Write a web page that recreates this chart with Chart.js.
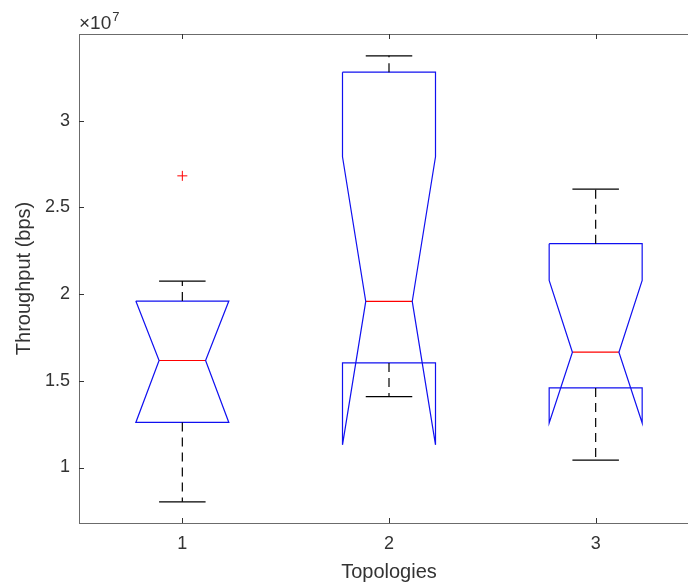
<!DOCTYPE html>
<html><head><meta charset="utf-8">
<script src="https://cdn.jsdelivr.net/npm/chart.js@4.4.0/dist/chart.umd.min.js"></script>
<style>
html,body{margin:0;padding:0;background:#fff;overflow:hidden;width:688px;height:582px;}
#wrap{position:relative;width:720px;height:582px;}
</style></head><body>
<div id="wrap"><canvas id="c" width="720" height="582"></canvas></div>
<script>
// ---- data ----
const categories = [1, 2, 3];
const categoryLabels = ['1', '2', '3'];
const upperWhisker = [2.075e7, 3.374e7, 2.605e7];
const q3 = [1.960e7, 3.280e7, 2.291e7];
const notchHigh = [1.960e7, 2.792e7, 2.079e7];
const medians = [1.617e7, 1.958e7, 1.665e7];
const notchLow = [1.260e7, 1.131e7, 1.257e7];
const q1 = [1.260e7, 1.603e7, 1.459e7];
const lowerWhisker = [0.802e7, 1.409e7, 1.043e7];
const outlierX = [1];
const outlierY = [2.682e7];
const yTicks = [1e7, 1.5e7, 2e7, 2.5e7, 3e7];
const yMin = 0.68e7, yMax = 3.5e7;
const xMin = 0.5, xMax = 3.5;

// ---- style ----
const HALF = 0.225;         // half box width (x units)
const CAP = HALF / 2;        // half cap / notch width
const BLUE = '#1010f0', RED = '#ff0000', BLACK = '#000000';
const AXIS = '#6b6b6b', TXT = '#333333';
const FONT = "'Liberation Sans', Arial, Helvetica, sans-serif";

const datasets = [];
function line(points, color, dash) {
  datasets.push({
    data: points, showLine: true, fill: false, tension: 0,
    borderColor: color, borderWidth: 1.2, borderDash: dash || [],
    pointRadius: 0, pointHoverRadius: 0
  });
}
categories.forEach((c, i) => {
  // whiskers (dashed)
  line([{x: c, y: q3[i]}, {x: c, y: upperWhisker[i]}], BLACK, [9, 6]);
  line([{x: c, y: q1[i]}, {x: c, y: lowerWhisker[i]}], BLACK, [9, 6]);
  // caps
  line([{x: c - CAP, y: upperWhisker[i]}, {x: c + CAP, y: upperWhisker[i]}], BLACK);
  line([{x: c - CAP, y: lowerWhisker[i]}, {x: c + CAP, y: lowerWhisker[i]}], BLACK);
  // notched box outline
  line([
    {x: c - HALF, y: q3[i]}, {x: c + HALF, y: q3[i]},
    {x: c + HALF, y: notchHigh[i]}, {x: c + CAP, y: medians[i]},
    {x: c + HALF, y: notchLow[i]}, {x: c + HALF, y: q1[i]},
    {x: c - HALF, y: q1[i]}, {x: c - HALF, y: notchLow[i]},
    {x: c - CAP, y: medians[i]}, {x: c - HALF, y: notchHigh[i]},
    {x: c - HALF, y: q3[i]}
  ], BLUE);
  // median
  line([{x: c - CAP, y: medians[i]}, {x: c + CAP, y: medians[i]}], RED);
});
datasets.push({
  data: outlierX.map((x, k) => ({x: x, y: outlierY[k]})),
  showLine: false, pointStyle: 'cross', pointRadius: 5, pointHoverRadius: 5,
  borderColor: RED, borderWidth: 1, backgroundColor: RED
});

const framePlugin = {
  id: 'frame',
  afterDraw(chart) {
    const {ctx, chartArea: a, scales} = chart;
    ctx.save();
    ctx.strokeStyle = AXIS; ctx.lineWidth = 1;
    ctx.strokeRect(Math.round(a.left) + 0.5, Math.round(a.top) + 0.5,
      Math.round(a.right - a.left), Math.round(a.bottom - a.top));
    ctx.strokeStyle = '#333';
    ctx.beginPath();
    yTicks.forEach(v => {
      const y = Math.round(scales.y.getPixelForValue(v)) + 0.5;
      ctx.moveTo(a.left, y); ctx.lineTo(a.left + 5, y);
      ctx.moveTo(a.right, y); ctx.lineTo(a.right - 5, y);
    });
    categories.forEach(v => {
      const x = Math.round(scales.x.getPixelForValue(v)) + 0.5;
      ctx.moveTo(x, a.bottom); ctx.lineTo(x, a.bottom - 5);
      ctx.moveTo(x, a.top); ctx.lineTo(x, a.top + 5);
    });
    ctx.stroke();
    // exponent label
    ctx.fillStyle = TXT;
    ctx.textBaseline = 'alphabetic'; ctx.textAlign = 'left';
    ctx.font = '19px ' + FONT;
    const base = '\u00d710';
    ctx.fillText(base, a.left, a.top - 5);
    const w = ctx.measureText(base).width;
    ctx.font = '13px ' + FONT;
    ctx.fillText('7', a.left + w + 1, a.top - 13);
    ctx.restore();
  }
};

new Chart(document.getElementById('c'), {
  type: 'scatter',
  data: {datasets},
  plugins: [framePlugin],
  options: {
    responsive: false, animation: false, devicePixelRatio: 1,
    layout: {padding: {top: 34, right: 21, left: 0, bottom: 0}},
    plugins: {legend: {display: false}, tooltip: {enabled: false}},
    scales: {
      x: {
        type: 'linear', min: xMin, max: xMax,
        afterBuildTicks: s => { s.ticks = categories.map(v => ({value: v})); },
        afterFit: s => { s.height = 59; },
        grid: {display: false, drawTicks: false},
        border: {display: false},
        ticks: {
          callback: (v) => categoryLabels[categories.indexOf(v)] ?? '',
          color: TXT, font: {family: FONT, size: 18}, padding: 10,
          maxRotation: 0, autoSkip: false
        },
        title: {display: true, text: 'Topologies', color: TXT,
          font: {family: FONT, size: 20, lineHeight: 1}, padding: 0}
      },
      y: {
        type: 'linear', min: yMin, max: yMax,
        afterBuildTicks: s => { s.ticks = yTicks.map(v => ({value: v})); },
        afterFit: s => { s.width = 79; },
        grid: {display: false, drawTicks: false},
        border: {display: false},
        ticks: {
          callback: (v) => String(Math.round(v / 1e7 * 10) / 10),
          color: TXT, font: {family: FONT, size: 18}, padding: 9
        },
        title: {display: true, text: 'Throughput (bps)', color: TXT,
          font: {family: FONT, size: 20, lineHeight: 1.2}, padding: {top: 12, bottom: 0}}
      }
    }
  }
});
</script>
</body></html>
